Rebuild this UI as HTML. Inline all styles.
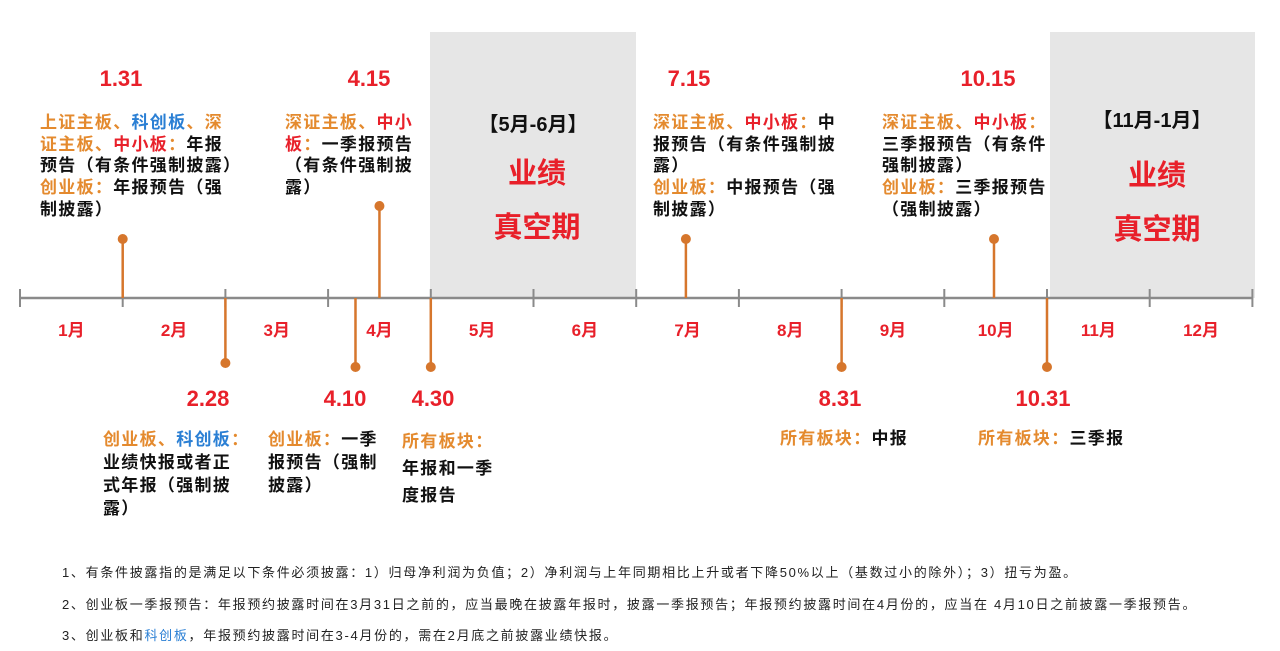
<!DOCTYPE html>
<html><head><meta charset="utf-8">
<style>
body{margin:0;background:#fff;}
#wrap{position:relative;width:1280px;height:651px;overflow:hidden;font-family:"Liberation Sans","Noto Sans CJK SC",sans-serif;font-weight:bold;}
.t{position:absolute;white-space:nowrap;}
.blk{position:absolute;white-space:nowrap;font-size:17px;letter-spacing:1.3px;line-height:21.7px;color:#111;}
.o{color:#e48a2e}.b{color:#2a7fd4}.r{color:#e8202a}
.date{position:absolute;font-size:22px;color:#e8202a;transform:translateX(-50%);}
.foot{position:absolute;left:62px;font-size:13px;letter-spacing:1.7px;font-weight:normal;color:#222;white-space:nowrap;}
</style></head><body>
<div id="wrap">
<svg id="svg" width="1280" height="651" style="position:absolute;left:0;top:0">
<rect x="430" y="32" width="206" height="266" fill="#e6e6e6"/>
<rect x="1050" y="32" width="205" height="266" fill="#e6e6e6"/>
<g id="axis"></g>
</svg>

<div class="date" style="left:121px;top:66px">1.31</div>
<div class="date" style="left:369px;top:66px">4.15</div>
<div class="date" style="left:689px;top:66px">7.15</div>
<div class="date" style="left:988px;top:66px">10.15</div>
<div class="date" style="left:208px;top:386px">2.28</div>
<div class="date" style="left:345px;top:386px">4.10</div>
<div class="date" style="left:433px;top:386px">4.30</div>
<div class="date" style="left:840px;top:386px">8.31</div>
<div class="date" style="left:1043px;top:386px">10.31</div>

<div class="blk" style="left:40px;top:112px"><span class="o">上证主板、</span><span class="b">科创板</span><span class="o">、深</span><br><span class="o">证主板、</span><span class="r">中小板</span><span class="o">：</span>年报<br>预告（有条件强制披露）<br><span class="o">创业板：</span>年报预告（强<br>制披露）</div>
<div class="blk" style="left:285px;top:112px"><span class="o">深证主板、</span><span class="r">中小</span><br><span class="r">板</span><span class="o">：</span>一季报预告<br>（有条件强制披<br>露）</div>
<div class="blk" style="left:653px;top:112px"><span class="o">深证主板、</span><span class="r">中小板</span><span class="o">：</span>中<br>报预告（有条件强制披<br>露）<br><span class="o">创业板：</span>中报预告（强<br>制披露）</div>
<div class="blk" style="left:882px;top:112px"><span class="o">深证主板、</span><span class="r">中小板</span><span class="o">：</span><br>三季报预告（有条件<br>强制披露）<br><span class="o">创业板：</span>三季报预告<br>（强制披露）</div>

<div class="t" style="left:533px;top:108px;transform:translateX(-50%);font-size:20px;color:#111">【5月-6月】</div>
<div class="t" style="left:537px;top:150px;transform:translateX(-50%);font-size:29px;color:#e8202a">业绩</div>
<div class="t" style="left:537px;top:204px;transform:translateX(-50%);font-size:29px;color:#e8202a">真空期</div>
<div class="t" style="left:1152px;top:104px;transform:translateX(-50%);font-size:20px;color:#111">【11月-1月】</div>
<div class="t" style="left:1157px;top:152px;transform:translateX(-50%);font-size:29px;color:#e8202a">业绩</div>
<div class="t" style="left:1157px;top:206px;transform:translateX(-50%);font-size:29px;color:#e8202a">真空期</div>

<div class="blk" style="left:103px;top:428px;line-height:23px"><span class="o">创业板、</span><span class="b">科创板</span><span class="o">：</span><br>业绩快报或者正<br>式年报（强制披<br>露）</div>
<div class="blk" style="left:268px;top:428px;line-height:23px"><span class="o">创业板：</span>一季<br>报预告（强制<br>披露）</div>
<div class="blk" style="left:402px;top:428px;line-height:27px"><span class="o">所有板块：</span><br>年报和一季<br>度报告</div>
<div class="blk" style="left:780px;top:428px"><span class="o">所有板块：</span>中报</div>
<div class="blk" style="left:978px;top:428px"><span class="o">所有板块：</span>三季报</div>

<div class="foot" style="top:562px">1、有条件披露指的是满足以下条件必须披露：1）归母净利润为负值；2）净利润与上年同期相比上升或者下降50%以上（基数过小的除外）；3）扭亏为盈。</div>
<div class="foot" style="top:594px">2、创业板一季报预告：年报预约披露时间在3月31日之前的，应当最晚在披露年报时，披露一季报预告；年报预约披露时间在4月份的，应当在 4月10日之前披露一季报预告。</div>
<div class="foot" style="top:625px">3、创业板和<span class="b">科创板</span>，年报预约披露时间在3-4月份的，需在2月底之前披露业绩快报。</div>
</div>
<script>
const months=['1月','2月','3月','4月','5月','6月','7月','8月','9月','10月','11月','12月'];
const eventMonths=[1,4,7,10,2,4,4,8,10];
const eventDays=[31,15,15,15,28,8,30,31,31];
const eventSides=['up','up','up','up','down','down','down','down','down'];
const eventDotY=[239,206,239,239,363,367,367,367,367];
const dim=[31,28,31,30,31,30,31,31,30,31,30,31];
const x0=20,mw=102.7,axisY=298;
const xScale=(m,d)=>x0+(m-1+d/dim[m-1])*mw;
const ns='http://www.w3.org/2000/svg';
const g=document.getElementById('axis');
function mk(t,a){const e=document.createElementNS(ns,t);for(const k in a)e.setAttribute(k,a[k]);g.appendChild(e);return e;}
let ax=mk('line',{x1:x0,y1:axisY,x2:x0+12*mw,y2:axisY,stroke:'#8a8a8a','stroke-width':2.5});


for(let i=0;i<=12;i++){
 let t=mk('line',{x1:x0+i*mw,y1:axisY-9,x2:x0+i*mw,y2:axisY+9,stroke:'#8a8a8a','stroke-width':2});
 
 
}
months.forEach((m,i)=>{
 let t=mk('text',{x:x0+(i+0.5)*mw,y:336,'text-anchor':'middle',fill:'#e8202a','font-size':17,'font-weight':'bold','font-family':'Liberation Sans, Noto Sans CJK SC, sans-serif'});
 t.textContent=m;
 
 
});
eventMonths.forEach((m,i)=>{
 const x=xScale(m,eventDays[i]);
 let s=mk('line',{x1:x,y1:axisY,x2:x,y2:eventDotY[i],stroke:'#d6762c','stroke-width':2.5});
 
 
 let c=mk('circle',{cx:x,cy:eventDotY[i],r:5,fill:'#d6762c'});
 
 
});
</script>
</body></html>
